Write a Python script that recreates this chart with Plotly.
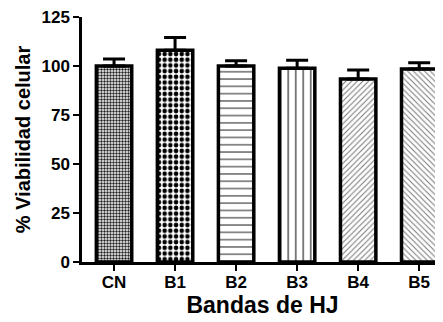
import plotly.graph_objects as go

categories = ["CN", "B1", "B2", "B3", "B4", "B5"]
viability = [100, 108, 100, 98.8, 93.4, 98.5]
err_plus = [3.6, 6.6, 2.7, 4.1, 4.5, 3.1]
y_ticks = [0, 25, 50, 75, 100, 125]

shapes = [".", ".", "-", "|", "/", "\\"]
sizes = [3, 5.7, 7.3, 7.5, 4, 4]
solid = [0.5, 0.5, 0.18, 0.2, 0.25, 0.25]
fg = ["#222222", "#000000", "#555555", "#555555", "#777777", "#777777"]

FONT = "Liberation Sans, Arial, sans-serif"

fig = go.Figure()
fig.add_trace(go.Bar(
    x=categories,
    y=viability,
    width=0.58,
    marker=dict(
        color="white",
        line=dict(color="black", width=3.5),
        pattern=dict(shape=shapes, size=sizes, solidity=solid,
                     fgcolor=fg, bgcolor="white", fillmode="replace"),
    ),
    error_y=dict(type="data", symmetric=False, array=err_plus,
                 arrayminus=[0] * len(err_plus),
                 color="black", thickness=3, width=11),
))

# page body has an 8px margin, so the figure is shifted by 8px
fig.update_layout(
    width=435, height=314,
    margin=dict(l=74, r=0, t=9, b=60),
    plot_bgcolor="white", paper_bgcolor="white",
    showlegend=False,
    font=dict(family=FONT, color="black", weight="bold"),
)
fig.update_xaxes(
    range=[-0.525, 5.39], automargin=False,
    showline=True, linecolor="black", linewidth=2.5,
    ticks="outside", ticklen=6, tickwidth=2, tickcolor="black",
    ticklabelstandoff=-3,
    tickfont=dict(size=17, family=FONT, weight="bold"),
    showgrid=False, zeroline=False,
    title=dict(text="Bandas de HJ", font=dict(size=23, family=FONT, weight="bold"), standoff=3),
)
fig.update_yaxes(
    range=[0, 125], tickvals=y_ticks, automargin=False,
    showline=True, linecolor="black", linewidth=2.5,
    ticks="outside", ticklen=6, tickwidth=2, tickcolor="black",
    ticklabeloverflow="allow",
    tickfont=dict(size=17, family=FONT, weight="bold"),
    showgrid=False, zeroline=False,
    title=dict(text="% Viabilidad celular", font=dict(size=20, family=FONT, weight="bold"), standoff=6),
)

fig.write_html("out.html")
